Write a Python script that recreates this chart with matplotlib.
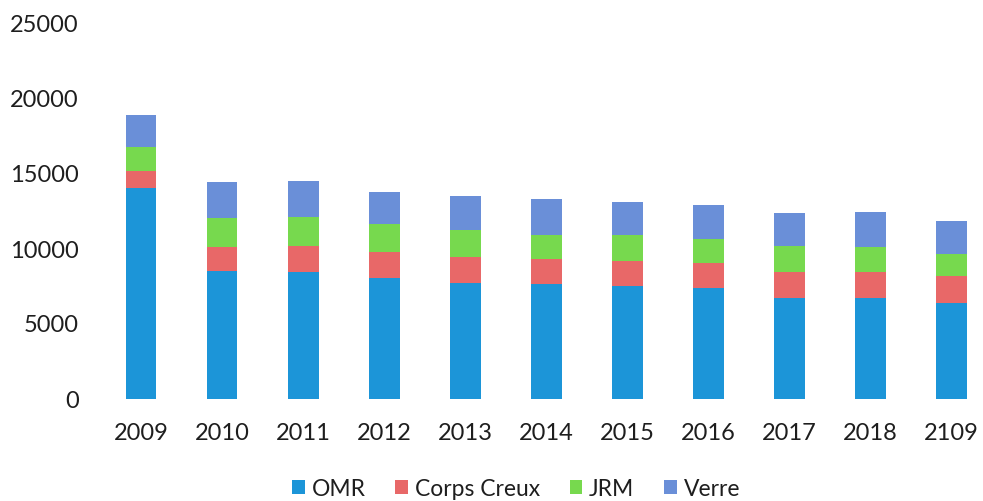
import matplotlib
matplotlib.use("Agg")
import matplotlib.pyplot as plt
import numpy as np

plt.rcParams["font.family"] = ["Lato", "DejaVu Sans"]

# Data
years = ["2009", "2010", "2011", "2012", "2013", "2014", "2015", "2016", "2017", "2018", "2109"]
omr = [14100, 8560, 8500, 8050, 7720, 7650, 7540, 7420, 6760, 6720, 6420]
corps_creux = [1100, 1600, 1700, 1730, 1730, 1670, 1660, 1630, 1710, 1750, 1780]
jrm = [1600, 1890, 1960, 1890, 1820, 1620, 1740, 1600, 1730, 1690, 1450]
verre = [2150, 2400, 2380, 2120, 2290, 2380, 2180, 2290, 2190, 2330, 2240]

series = [
    ("OMR", omr, "#1c95d8"),
    ("Corps Creux", corps_creux, "#e86868"),
    ("JRM", jrm, "#77d94e"),
    ("Verre", verre, "#6a8fd8"),
]

text_color = "#1e1e1e"

fig = plt.figure(figsize=(9.83, 5.01), dpi=100)
ax = fig.add_axes([100.5 / 983, 102 / 501, 891.5 / 983, 375 / 501])

x = np.arange(len(years))
bottom = np.zeros(len(years))
handles = []
for name, vals, color in series:
    vals = np.array(vals, dtype=float)
    ax.bar(x, vals, 0.38, bottom=bottom, color=color, label=name)
    bottom += vals
    handles.append(plt.Rectangle((0, 0), 1, 1, facecolor=color))

ax.set_xlim(-0.5, len(years) - 0.5)
ax.set_ylim(0, 25000)
ax.set_yticks(np.arange(0, 25001, 5000))
ax.set_xticks(x)
ax.set_xticklabels(years)

# no spines, no ticks, no grid
for s in ax.spines.values():
    s.set_visible(False)
ax.tick_params(axis="both", length=0, labelsize=17, colors=text_color)
ax.tick_params(axis="y", pad=15.5)
ax.tick_params(axis="x", pad=17)

fig.legend(
    handles,
    [s[0] for s in series],
    loc="center",
    bbox_to_anchor=(516 / 983, 1 - 489 / 501),
    ncol=4,
    frameon=False,
    fontsize=16.5,
    handlelength=0.55,
    handleheight=0.55,
    handletextpad=0.3,
    columnspacing=1.3,
    labelcolor=text_color,
)

fig.savefig("out.png", dpi=100, facecolor="white")
